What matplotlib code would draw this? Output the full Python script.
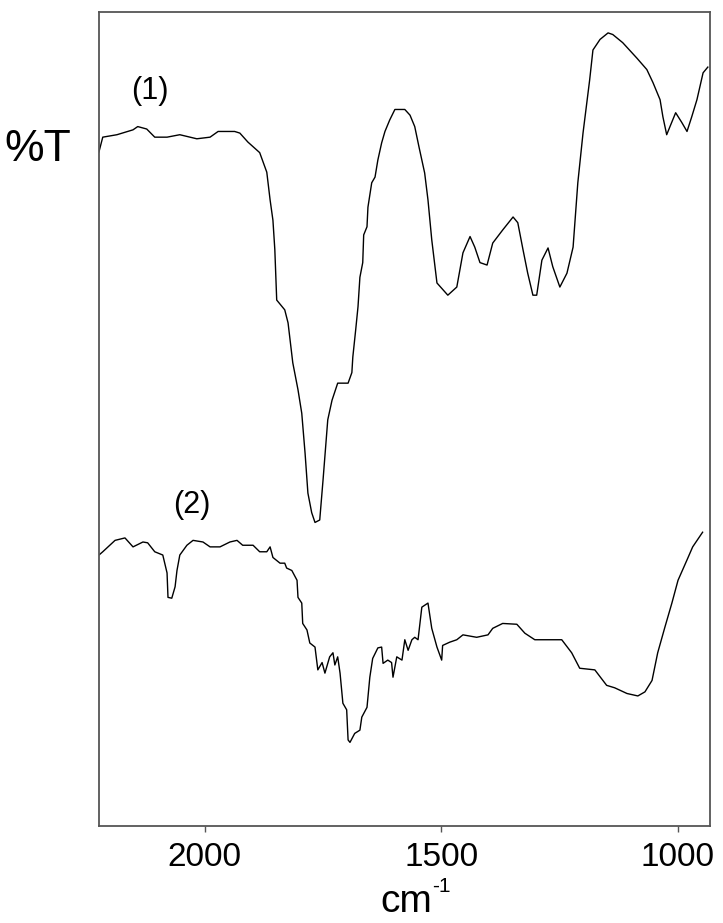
import matplotlib
matplotlib.use('Agg')
import matplotlib.pyplot as plt

plt.rcParams['font.family'] = ['Liberation Sans', 'DejaVu Sans']

# spectrum (1): wavenumber (cm-1) and %T (arbitrary scale)
wn1 = [2224, 2216, 2186, 2152, 2142, 2123, 2106, 2080, 2053, 2017, 1989, 1972, 1937,
       1926, 1909, 1884, 1869, 1862, 1856, 1852, 1848, 1831, 1824, 1814, 1803, 1795,
       1788, 1782, 1774, 1767, 1757, 1750, 1740, 1731, 1719, 1697, 1689, 1687, 1681,
       1676, 1672, 1666, 1664, 1657, 1655, 1647, 1640, 1634, 1626, 1619, 1609, 1598,
       1577, 1566, 1556, 1547, 1535, 1528, 1520, 1509, 1486, 1467, 1454, 1439, 1429,
       1418, 1403, 1391, 1370, 1348, 1338, 1327, 1317, 1306, 1298, 1287, 1274, 1264,
       1249, 1234, 1221, 1211, 1200, 1186, 1179, 1164, 1147, 1137, 1116, 1086, 1065,
       1052, 1037, 1031, 1023, 1016, 1004, 991, 980, 970, 959, 946, 936]
t1 = [82.8, 84.6, 84.9, 85.5, 85.9, 85.6, 84.6, 84.6, 84.9, 84.4, 84.6, 85.3, 85.3,
      85.1, 84.0, 82.7, 80.3, 76.9, 74.4, 70.8, 64.6, 63.4, 61.8, 56.9, 53.6, 50.7,
      45.8, 40.9, 38.5, 37.3, 37.6, 42.5, 49.9, 52.3, 54.4, 54.4, 55.7, 57.6, 60.9,
      63.8, 67.4, 69.2, 72.6, 73.6, 76.0, 79.0, 79.7, 81.8, 83.9, 85.3, 86.7, 88.0,
      88.0, 87.3, 85.9, 83.4, 80.2, 76.9, 72.0, 66.7, 65.2, 66.2, 70.4, 72.4, 71.1,
      69.2, 68.9, 71.6, 73.2, 74.8, 74.1, 70.8, 67.9, 65.2, 65.2, 69.5, 71.0, 68.7,
      66.2, 67.9, 71.1, 79.0, 85.1, 91.6, 95.3, 96.6, 97.4, 97.2, 96.2, 94.3, 92.9,
      91.3, 89.2, 87.1, 84.9, 85.9, 87.6, 86.4, 85.3, 87.1, 89.2, 92.5, 93.2]

# spectrum (2)
wn2 = [2224, 2216, 2190, 2169, 2152, 2131, 2121, 2106, 2089, 2080, 2078, 2070, 2063,
       2059, 2053, 2038, 2025, 2004, 1989, 1968, 1947, 1932, 1920, 1898, 1884, 1869,
       1862, 1856, 1841, 1831, 1827, 1816, 1805, 1803, 1795, 1793, 1784, 1778, 1767,
       1761, 1752, 1746, 1736, 1729, 1725, 1719, 1714, 1708, 1700, 1697, 1693, 1683,
       1672, 1668, 1657, 1651, 1645, 1634, 1626, 1623, 1613, 1605, 1602, 1594, 1583,
       1577, 1570, 1562, 1556, 1549, 1541, 1528, 1520, 1509, 1499, 1497, 1482, 1467,
       1454, 1425, 1401, 1391, 1370, 1340, 1323, 1302, 1245, 1224, 1207, 1175, 1150,
       1133, 1107, 1084, 1069, 1054, 1042, 1027, 1012, 999, 980, 968, 947]
t2 = [33.3, 33.7, 35.1, 35.4, 34.3, 34.9, 34.8, 33.7, 33.3, 31.1, 28.1, 28.0, 29.4,
      31.4, 33.3, 34.5, 35.1, 34.9, 34.3, 34.3, 34.9, 35.1, 34.5, 34.5, 33.7, 33.7,
      34.3, 33.0, 32.3, 32.3, 31.7, 31.4, 30.2, 28.1, 27.4, 24.9, 24.1, 22.5, 22.0,
      19.2, 20.1, 18.8, 20.8, 21.3, 19.8, 20.8, 18.8, 15.1, 14.3, 10.6, 10.3, 11.4,
      11.8, 13.4, 14.6, 18.3, 20.6, 21.9, 22.0, 20.0, 20.4, 20.1, 18.3, 20.8, 20.4,
      22.9, 21.6, 22.9, 23.2, 22.9, 26.9, 27.4, 24.3, 22.0, 20.4, 22.2, 22.6, 22.9,
      23.5, 23.2, 23.5, 24.3, 24.9, 24.8, 23.7, 22.9, 22.9, 21.3, 19.4, 19.2, 17.3,
      17.0, 16.3, 16.0, 16.5, 17.9, 21.3, 24.4, 27.4, 30.2, 32.7, 34.3, 36.1]

xticks = [2000, 1500, 1000]

fig = plt.figure(figsize=(7.23, 9.23), dpi=100)
ax = fig.add_axes([0.1369, 0.1048, 0.8447, 0.8825])

ax.plot(wn1, t1, color='black', lw=1.0)
ax.plot(wn2, t2, color='black', lw=1.0)

ax.set_xlim(2224, 932)
ax.set_ylim(0, 100)
ax.set_xticks(xticks)
ax.set_xticklabels([str(v) for v in xticks])
ax.set_yticks([])
ax.tick_params(axis='x', direction='out', length=4.5, width=1, pad=7,
               labelsize=24, color='#555555')
for sp in ax.spines.values():
    sp.set_color('#555555')
    sp.set_linewidth(1.3)

fig.text(0.2075, 0.9014, '(1)', fontsize=22, ha='center', va='center')
fig.text(0.2656, 0.4529, '(2)', fontsize=22, ha='center', va='center')
fig.text(0.0526, 0.8375, '%T', fontsize=32, ha='center', va='center')
fig.text(0.5256, 0.003, 'cm', fontsize=28, ha='left', va='bottom')
fig.text(0.5975, 0.0498, '-1', fontsize=15, ha='left', va='top')

fig.savefig('out.png', dpi=100)
